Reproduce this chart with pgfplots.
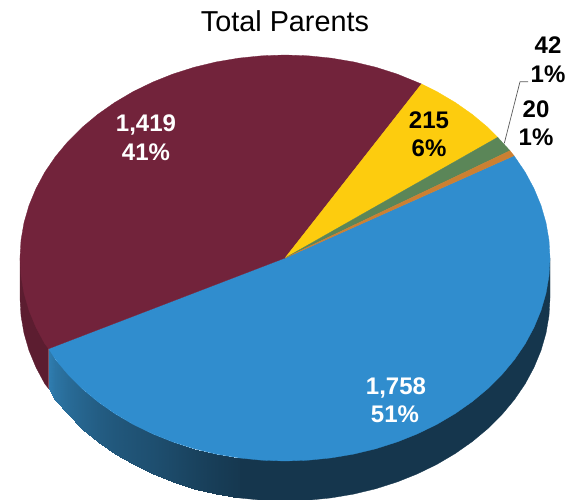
\documentclass[border=0pt]{standalone}
\usepackage{pgfplots}
\pgfplotsset{compat=1.18}
\usepackage{fontspec}
\setmainfont{Liberation Sans}
\definecolor{cBlue}{HTML}{308DCE}
\definecolor{cMaroon}{HTML}{72233B}
\definecolor{cYellow}{HTML}{FDCC0E}
\definecolor{cGreen}{HTML}{5B8658}
\definecolor{cOrange}{HTML}{CC8032}
\definecolor{cMaroonSide}{HTML}{5C1D30}
\definecolor{sideL}{HTML}{2F7DB0}
\definecolor{sideR}{HTML}{15364D}
\newcommand{\lab}[4]{\node[anchor=base,text=#1,font=\fontsize{24}{24}\selectfont\bfseries,inner sep=0pt] at (axis cs:#2,#3) {#4};}
\begin{document}
\begin{tikzpicture}
\useasboundingbox (0,0) rectangle (568pt,499pt);
\begin{axis}[
	scale only axis, width=568pt, height=499pt,
	xmin=0, xmax=568, ymin=0, ymax=499, y dir=reverse,
	hide axis, line join=round,
]
% rim, left part
\addplot[fill=cMaroonSide, draw=cMaroonSide, line width=0.3pt] coordinates {
	(20,258) (20,298) (21,315.7) (24,333.2) (29,350.5) (36,367.4) (44.8,383.8) (48.7,388.7) (48.7,348.7)
} --cycle;
% dark end of the blue rim
\addplot[fill=sideR, draw=sideR, line width=0.3pt] coordinates {
	(239,457.9) (239,497.9) (261.9,500.2) (285,501) (308.1,500.2) (331,497.9) (353.6,494.1) (375.6,488.8)
	(397,482) (417.5,473.8) (437,464.3) (455.3,453.5) (472.4,441.5) (488,428.5) (502.1,414.4) (514.5,399.5)
	(525.2,383.8) (534,367.4) (541,350.5) (546,333.2) (549,315.7) (550,298) (550,258)
} --cycle;
% shaded part of the blue rim
\addplot[patch, patch type=rectangle, shader=interp, point meta=explicit,
	point meta min=0, point meta max=1,
	colormap={side}{color(0)=(sideR) color(1)=(sideL)}]
	table[x=x, y=y, meta=m] {
	x y m
	48.7 348.7 1.00
	55.5 359.5 0.88
	55.5 399.5 0.88
	48.7 388.7 1.00
	55.5 359.5 0.88
	67.9 374.4 0.75
	67.9 414.4 0.75
	55.5 399.5 0.88
	67.9 374.4 0.75
	82 388.5 0.65
	82 428.5 0.65
	67.9 414.4 0.75
	82 388.5 0.65
	97.6 401.5 0.55
	97.6 441.5 0.55
	82 428.5 0.65
	97.6 401.5 0.55
	114.7 413.5 0.47
	114.7 453.5 0.47
	97.6 441.5 0.55
	114.7 413.5 0.47
	133 424.3 0.41
	133 464.3 0.41
	114.7 453.5 0.47
	133 424.3 0.41
	152.5 433.8 0.35
	152.5 473.8 0.35
	133 464.3 0.41
	152.5 433.8 0.35
	173 442 0.27
	173 482 0.27
	152.5 473.8 0.35
	173 442 0.27
	194.4 448.8 0.18
	194.4 488.8 0.18
	173 482 0.27
	194.4 448.8 0.18
	216.4 454.1 0.10
	216.4 494.1 0.10
	194.4 488.8 0.18
	216.4 454.1 0.10
	239 457.9 0.03
	239 497.9 0.03
	216.4 494.1 0.10
	};
% top: 1758
\addplot[fill=cBlue, draw=cBlue, line width=0.3pt] coordinates {
	(285,258) (48.7,348.7) (55.5,359.5) (67.9,374.4) (82,388.5) (97.6,401.5) (114.7,413.5) (133,424.3)
	(152.5,433.8) (173,442) (194.4,448.8) (216.4,454.1) (239,457.9) (261.9,460.2) (285,461) (308.1,460.2)
	(331,457.9) (353.6,454.1) (375.6,448.8) (397,442) (417.5,433.8) (437,424.3) (455.3,413.5) (472.4,401.5)
	(488,388.5) (502.1,374.4) (514.5,359.5) (525.2,343.8) (534,327.4) (541,310.5) (546,293.2) (549,275.7)
	(550,258) (549,240.3) (546,222.8) (541,205.5) (534,188.6) (525.2,172.2) (514,155.7)
} --cycle;
% top: 1419
\addplot[fill=cMaroon, draw=cMaroon, line width=0.3pt] coordinates {
	(285,258) (421.5,84) (397,74) (375.6,67.2) (353.6,61.9) (331,58.1) (308.1,55.8) (285,55) (261.9,55.8)
	(239,58.1) (216.4,61.9) (194.4,67.2) (173,74) (152.5,82.2) (133,91.7) (114.7,102.5) (97.6,114.5)
	(82,127.5) (67.9,141.6) (55.5,156.5) (44.8,172.2) (36,188.6) (29,205.5) (24,222.8) (21,240.3) (20,258)
	(21,275.7) (24,293.2) (29,310.5) (36,327.4) (44.8,343.8) (48.7,348.7)
} --cycle;
% top: 215
\addplot[fill=cYellow, draw=cYellow, line width=0.3pt] coordinates {
	(285,258) (497.7,137.3) (488,127.5) (472.4,114.5) (455.3,102.5) (437,91.7) (421.5,84)
} --cycle;
% top: 42
\addplot[fill=cGreen, draw=cGreen, line width=0.3pt] coordinates {(285,258) (510,150.7) (497.7,137.3)} --cycle;
% top: 20
\addplot[fill=cOrange, draw=cOrange, line width=0.3pt] coordinates {(285,258) (514,155.7) (510,150.7)} --cycle;
% leader line of the 42 label
\addplot[draw=gray!70!black, line width=0.7pt] coordinates {(528,81.7) (520,81.7) (504.3,143.3)};

\node[anchor=base,inner sep=0pt,font=\fontsize{28.8}{28.8}\selectfont] at (axis cs:285,31.7) {Total Parents};
\lab{white}{146}{131.7}{1,419}
\lab{white}{146}{160}{41\%}
\lab{black}{429}{128.3}{215}
\lab{black}{429}{156.5}{6\%}
\lab{black}{548}{53}{42}
\lab{black}{548}{82}{1\%}
\lab{black}{536}{117}{20}
\lab{black}{536}{145}{1\%}
\lab{white}{396}{394}{1,758}
\lab{white}{395}{422}{51\%}
\end{axis}
\end{tikzpicture}
\end{document}
